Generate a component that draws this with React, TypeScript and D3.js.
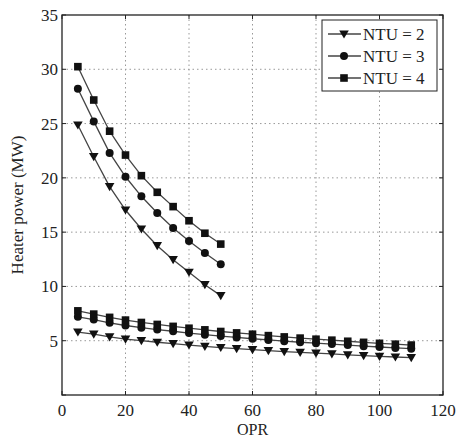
import React from "react";
import * as d3 from "d3";

const xUpper = [5, 10, 15, 20, 25, 30, 35, 40, 45, 50];
const ntu2Upper = [24.87, 21.95, 19.19, 17.04, 15.29, 13.75, 12.46, 11.3, 10.16, 9.15];
const ntu3Upper = [28.2, 25.2, 22.3, 20.1, 18.3, 16.76, 15.38, 14.18, 13.08, 12.04];
const ntu4Upper = [30.24, 27.17, 24.3, 22.1, 20.2, 18.67, 17.35, 16.05, 14.9, 13.9];

const xLower = [5, 10, 15, 20, 25, 30, 35, 40, 45, 50, 55, 60, 65, 70, 75, 80, 85, 90, 95, 100, 105, 110];
const ntu2Lower = [5.8, 5.6, 5.35, 5.15, 5.0, 4.86, 4.73, 4.6, 4.48, 4.37, 4.27, 4.18, 4.09, 4.0, 3.92, 3.85, 3.78, 3.7, 3.63, 3.56, 3.5, 3.44];
const ntu3Lower = [7.2, 6.95, 6.65, 6.4, 6.2, 6.03, 5.87, 5.7, 5.56, 5.43, 5.3, 5.18, 5.07, 4.96, 4.86, 4.77, 4.69, 4.6, 4.5, 4.42, 4.34, 4.27];
const ntu4Lower = [7.75, 7.45, 7.15, 6.9, 6.68, 6.5, 6.32, 6.15, 6.0, 5.85, 5.72, 5.6, 5.47, 5.35, 5.24, 5.14, 5.05, 4.95, 4.85, 4.76, 4.68, 4.6];

const xTicks = [0, 20, 40, 60, 80, 100, 120];
const yTicks = [5, 10, 15, 20, 25, 30, 35];
const seriesNames = ["NTU = 2", "NTU = 3", "NTU = 4"];
const seriesMarkers = ["triangle", "circle", "square"];

const W = 461;
const H = 437;
const L = 62, R = 443, T = 15, B = 395;
const FONT = "Liberation Serif, Times New Roman, serif";

function Marker({ kind, x, y }: { kind: string; x: number; y: number }) {
  if (kind === "circle") return <circle cx={x} cy={y} r={4} fill="#111" />;
  if (kind === "square") return <rect x={x - 3.8} y={y - 3.8} width={7.6} height={7.6} fill="#111" />;
  const s = 4.8;
  return <path d={`M${x - s},${y - s * 0.75}L${x + s},${y - s * 0.75}L${x},${y + s * 0.95}Z`} fill="#111" />;
}

export default function App() {
  const x = d3.scaleLinear().domain([0, 120]).range([L, R]);
  const y = d3.scaleLinear().domain([0, 35]).range([B, T]);
  const line = d3.line<[number, number]>().x((d) => x(d[0])).y((d) => y(d[1]));

  const series = [
    { xs: xUpper, ys: ntu2Upper, m: seriesMarkers[0] },
    { xs: xUpper, ys: ntu3Upper, m: seriesMarkers[1] },
    { xs: xUpper, ys: ntu4Upper, m: seriesMarkers[2] },
    { xs: xLower, ys: ntu2Lower, m: seriesMarkers[0] },
    { xs: xLower, ys: ntu3Lower, m: seriesMarkers[1] },
    { xs: xLower, ys: ntu4Lower, m: seriesMarkers[2] },
  ];

  const legendY = [34, 56, 78];

  return (
    <svg width={W} height={H} style={{ position: "absolute", left: 0, top: 0, background: "#fff" }}>
      <rect x={0} y={0} width={W} height={H} fill="#fff" />
      {/* grid */}
      {xTicks.slice(1, -1).map((t) => (
        <line key={"gx" + t} x1={x(t)} x2={x(t)} y1={T} y2={B} stroke="#999" strokeWidth={1} strokeDasharray="1.5,3" />
      ))}
      {yTicks.slice(0, -1).map((t) => (
        <line key={"gy" + t} x1={L} x2={R} y1={y(t)} y2={y(t)} stroke="#999" strokeWidth={1} strokeDasharray="1.5,3" />
      ))}
      {/* ticks */}
      {xTicks.map((t) => (
        <g key={"tx" + t}>
          <line x1={x(t)} x2={x(t)} y1={B} y2={B - 4} stroke="#222" />
          <line x1={x(t)} x2={x(t)} y1={T} y2={T + 4} stroke="#222" />
          <text x={x(t)} y={416} textAnchor="middle" fontFamily={FONT} fontSize={17} fill="#222">{t}</text>
        </g>
      ))}
      {[0, ...yTicks].map((t) => (
        <g key={"ty" + t}>
          <line x1={L} x2={L + 4} y1={y(t)} y2={y(t)} stroke="#222" />
          <line x1={R} x2={R - 4} y1={y(t)} y2={y(t)} stroke="#222" />
          {t > 0 && (
            <text x={58} y={y(t) + 6} textAnchor="end" fontFamily={FONT} fontSize={17} fill="#222">{t}</text>
          )}
        </g>
      ))}
      {/* series */}
      {series.map((s, i) => {
        const pts = s.xs.map((v, j) => [v, s.ys[j]] as [number, number]);
        return (
          <g key={"s" + i}>
            <path d={line(pts) || ""} fill="none" stroke="#444" strokeWidth={1.3} />
            {pts.map((p, j) => (
              <Marker key={j} kind={s.m} x={x(p[0])} y={y(p[1])} />
            ))}
          </g>
        );
      })}
      {/* frame */}
      <rect x={L} y={T} width={R - L} height={B - T} fill="none" stroke="#222" strokeWidth={1.3} />
      {/* legend */}
      <rect x={322} y={20} width={115} height={71} fill="#fff" stroke="#222" strokeWidth={1} />
      {seriesNames.map((n, i) => (
        <g key={"lg" + i}>
          <line x1={328} x2={361} y1={legendY[i]} y2={legendY[i]} stroke="#444" strokeWidth={1.3} />
          <Marker kind={seriesMarkers[i]} x={344} y={legendY[i]} />
          <text x={363} y={legendY[i] + 6} fontFamily={FONT} fontSize={17} fill="#222">{n}</text>
        </g>
      ))}
      {/* axis labels */}
      <text x={(L + R) / 2} y={435} textAnchor="middle" fontFamily={FONT} fontSize={16} fill="#222">OPR</text>
      <text transform={`translate(23,${(T + B) / 2}) rotate(-90)`} textAnchor="middle" fontFamily={FONT} fontSize={17} fill="#222">Heater power (MW)</text>
    </svg>
  );
}
